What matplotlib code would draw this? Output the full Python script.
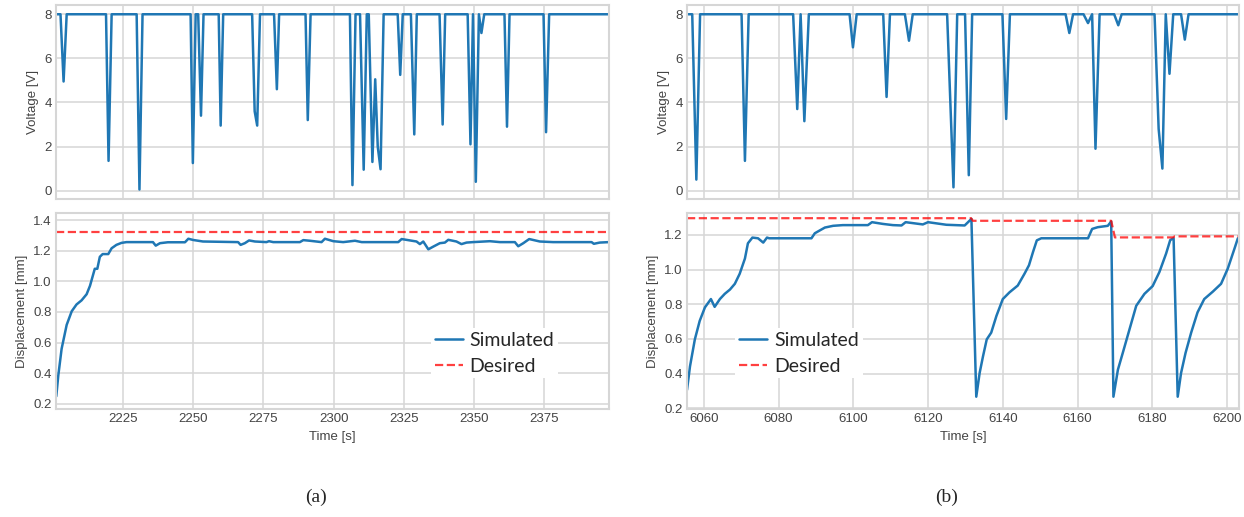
import matplotlib
matplotlib.use('Agg')
import matplotlib.pyplot as plt

plt.style.use('seaborn-v0_8-whitegrid')
plt.rcParams['font.family'] = ['Liberation Sans', 'DejaVu Sans']

# ---- (a) left panel data ----
volt_t_a = [2201.3, 2202.8, 2203.9, 2205.0, 2219.0, 2219.9, 2221.0, 2229.9, 2230.9, 2232.0,
            2249.1, 2249.9, 2250.9, 2251.8, 2252.8, 2253.7, 2259.1, 2259.8, 2260.7,
            2271.0, 2271.9, 2272.8, 2273.8, 2278.8, 2279.8, 2280.6, 2290.0, 2290.8, 2291.8,
            2305.8, 2306.7, 2307.8, 2309.4, 2310.7, 2311.8, 2312.5, 2313.8, 2314.8, 2315.7,
            2316.7, 2317.8, 2322.8, 2323.7, 2324.6, 2327.5, 2328.7, 2329.6, 2337.7, 2338.8,
            2339.7, 2347.7, 2348.7, 2349.6, 2350.6, 2351.7, 2352.6, 2353.6, 2360.8, 2361.7,
            2362.6, 2374.7, 2375.6, 2376.7, 2398.0]
volt_v_a = [8, 8, 4.95, 8, 8, 1.35, 8, 8, 0.05, 8,
            8, 1.25, 8, 8, 3.4, 8, 8, 2.95, 8,
            8, 3.6, 2.95, 8, 8, 4.6, 8, 8, 3.2, 8,
            8, 0.25, 8, 8, 0.95, 8, 8, 1.3, 5.05, 2.0,
            0.97, 8, 8, 5.25, 8, 8, 2.55, 8, 8, 3.0,
            8, 8, 2.1, 8, 0.4, 8, 7.15, 8, 8, 2.9,
            8, 8, 2.65, 8, 8]

disp_t_a = [2201.3, 2202.0, 2203.2, 2205.0, 2206.8, 2208.5, 2210.3, 2212.1, 2213.3, 2215.0,
            2215.9, 2216.8, 2217.8, 2219.8, 2221.0, 2222.7, 2224.5, 2226.3, 2235.7, 2236.7,
            2238.2, 2241.0, 2247.1, 2248.3, 2250.0, 2253.5, 2266.0, 2266.9, 2268.4, 2269.9,
            2272.0, 2276.1, 2277.0, 2278.5, 2288.0, 2289.2, 2291.5, 2295.7, 2296.9, 2299.9,
            2303.4, 2307.6, 2310.0, 2323.0, 2324.2, 2329.5, 2330.7, 2331.9, 2333.7, 2335.5,
            2337.8, 2339.6, 2340.8, 2343.7, 2345.5, 2347.3, 2349.6, 2355.6, 2359.2, 2364.5,
            2365.7, 2367.5, 2369.6, 2373.4, 2378.1, 2391.8, 2392.6, 2394.7, 2398.0]
disp_v_a = [0.25, 0.383, 0.56, 0.716, 0.805, 0.849, 0.876, 0.916, 0.971, 1.082,
            1.082, 1.16, 1.178, 1.178, 1.216, 1.238, 1.251, 1.256, 1.256, 1.233,
            1.249, 1.255, 1.255, 1.278, 1.27, 1.26, 1.256, 1.238, 1.249, 1.267,
            1.26, 1.256, 1.262, 1.256, 1.256, 1.269, 1.265, 1.256, 1.278, 1.262,
            1.256, 1.265, 1.256, 1.256, 1.276, 1.26, 1.243, 1.26, 1.209, 1.227,
            1.249, 1.253, 1.271, 1.26, 1.243, 1.253, 1.256, 1.262, 1.256, 1.256,
            1.229, 1.249, 1.276, 1.26, 1.256, 1.256, 1.245, 1.253, 1.256]

desired_t_a = [2201.2, 2398.0]
desired_v_a = [1.32, 1.32]

# ---- (b) right panel data ----
volt_t_b = [6055.5, 6056.9, 6058.0, 6059.0, 6070.1, 6071.0, 6072.0, 6083.9, 6085.0, 6085.9,
            6086.9, 6088.1, 6099.0, 6099.9, 6100.9, 6108.0, 6108.9, 6109.8, 6113.8, 6114.9,
            6115.9, 6125.1, 6126.8, 6127.8, 6129.9, 6130.9, 6131.8, 6139.9, 6140.9, 6141.9,
            6156.8, 6157.8, 6158.8, 6161.6, 6162.8, 6163.9, 6164.8, 6165.9, 6169.8, 6170.9,
            6171.8, 6180.6, 6181.7, 6182.7, 6183.6, 6184.6, 6185.6, 6187.7, 6188.7, 6189.7,
            6203.2]
volt_v_b = [8, 8, 0.5, 8, 8, 1.35, 8, 8, 3.7, 8,
            3.15, 8, 8, 6.5, 8, 8, 4.25, 8, 8, 6.8,
            8, 8, 0.15, 8, 8, 0.7, 8, 8, 3.25, 8,
            8, 7.15, 8, 8, 7.6, 8, 1.9, 8, 8, 7.5,
            8, 8, 2.8, 1.0, 8, 5.3, 8, 8, 6.85, 8,
            8]

disp_t_b = [6055.5, 6056.3, 6057.6, 6058.9, 6060.3, 6061.9, 6062.9, 6064.3, 6065.6, 6067.0,
            6068.3, 6069.6, 6071.0, 6071.8, 6073.0, 6074.5, 6075.9, 6076.9, 6077.5, 6088.8,
            6089.7, 6091.0, 6092.4, 6094.6, 6097.2, 6103.9, 6105.0, 6107.9, 6110.6, 6112.9,
            6114.0, 6118.6, 6120.0, 6124.9, 6129.8, 6131.6, 6132.9, 6133.8, 6134.7, 6135.7,
            6136.9, 6138.3, 6140.0, 6141.8, 6144.0, 6145.8, 6147.0, 6148.1, 6149.1, 6150.3,
            6162.8, 6163.9, 6165.4, 6168.1, 6169.0, 6169.6, 6170.8, 6172.1, 6173.9, 6175.7,
            6177.9, 6180.1, 6181.9, 6183.7, 6184.8, 6185.7, 6186.8, 6187.7, 6188.9, 6190.4,
            6192.1, 6193.9, 6196.2, 6198.4, 6200.2, 6202.0, 6202.9]
disp_v_b = [0.305, 0.441, 0.597, 0.704, 0.782, 0.83, 0.785, 0.83, 0.86, 0.885,
            0.918, 0.976, 1.064, 1.152, 1.185, 1.181, 1.156, 1.185, 1.181, 1.181,
            1.21, 1.226, 1.243, 1.253, 1.257, 1.257, 1.274, 1.264, 1.257, 1.255,
            1.274, 1.261, 1.274, 1.259, 1.255, 1.293, 0.266, 0.403, 0.499, 0.597,
            0.636, 0.733, 0.83, 0.869, 0.908, 0.976, 1.025, 1.103, 1.169, 1.181,
            1.181, 1.235, 1.245, 1.253, 1.278, 0.266, 0.422, 0.519, 0.655, 0.791,
            0.86, 0.905, 0.986, 1.093, 1.171, 1.181, 0.266, 0.403, 0.519, 0.636,
            0.753, 0.83, 0.873, 0.918, 1.006, 1.122, 1.181]

desired_t_b = [6055.5, 6131.5, 6132.0, 6169.0, 6170.0, 6185.5, 6186.0, 6203.2]
desired_v_b = [1.297, 1.297, 1.282, 1.282, 1.186, 1.186, 1.192, 1.192]

xticks_a = [2225, 2250, 2275, 2300, 2325, 2350, 2375]
xticks_b = [6060, 6080, 6100, 6120, 6140, 6160, 6180, 6200]

BLUE = '#1f77b4'
W, H = 1244, 517


def rect(x0, y0, x1, y1):
    return [x0 / W, 1 - y1 / H, (x1 - x0) / W, (y1 - y0) / H]


fig = plt.figure(figsize=(12.44, 5.17), dpi=100)


def panel(x0, x1, vt, vv, dt, dv, st, sv, xlim, xticks, dylim, dyticks, leg_x, cap, cap_x):
    ax1 = fig.add_axes(rect(x0, 5, x1, 199))
    ax2 = fig.add_axes(rect(x0, 213, x1, 409))
    ax1.plot(vt, vv, color=BLUE, lw=1.8)
    ax1.set_xlim(xlim)
    ax1.set_ylim(-0.38, 8.42)
    ax1.set_yticks([0, 2, 4, 6, 8])
    ax1.set_xticks(xticks)
    ax1.set_xticklabels([])
    ax1.set_ylabel('Voltage [V]', fontsize=9.5, color='#444444')

    ax2.plot(dt, dv, color=BLUE, lw=1.8, label='Simulated')
    ax2.plot(st, sv, '--', color='red', alpha=0.75, lw=1.6, label='Desired')
    ax2.set_xlim(xlim)
    ax2.set_ylim(dylim)
    ax2.set_yticks(dyticks)
    ax2.set_xticks(xticks)
    ax2.set_ylabel('Displacement [mm]', fontsize=9.5, color='#444444')
    ax2.set_xlabel('Time [s]', fontsize=9.5, color='#444444')
    ax2.legend(loc='center left', bbox_to_anchor=(leg_x, 0.285), frameon=True,
               facecolor='white', edgecolor='none', framealpha=1, fancybox=False,
               prop={'family': 'Lato', 'size': 14}, handlelength=1.45,
               handletextpad=0.35, labelspacing=0.45, borderpad=0.2)
    for ax in (ax1, ax2):
        ax.tick_params(labelsize=9.5, colors='#444444', length=0, pad=3)
        for s in ax.spines.values():
            s.set_edgecolor('#d6d6d6')
            s.set_linewidth(1.5)
        ax.grid(color='#d6d6d6', lw=1.1)
    fig.text(cap_x / W, 1 - 497 / H, cap, family='Liberation Serif',
             fontsize=14, ha='center', va='center')


panel(56, 609, volt_t_a, volt_v_a, disp_t_a, disp_v_a, desired_t_a, desired_v_a,
      (2201.2, 2398.0), xticks_a, (0.167, 1.446), [0.2, 0.4, 0.6, 0.8, 1.0, 1.2, 1.4],
      0.66, '(a)', 316)
panel(687, 1239, volt_t_b, volt_v_b, disp_t_b, disp_v_b, desired_t_b, desired_v_b,
      (6055.5, 6203.2), xticks_b, (0.195, 1.327), [0.2, 0.4, 0.6, 0.8, 1.0, 1.2],
      0.07, '(b)', 947)

fig.savefig('out.png', dpi=100)
